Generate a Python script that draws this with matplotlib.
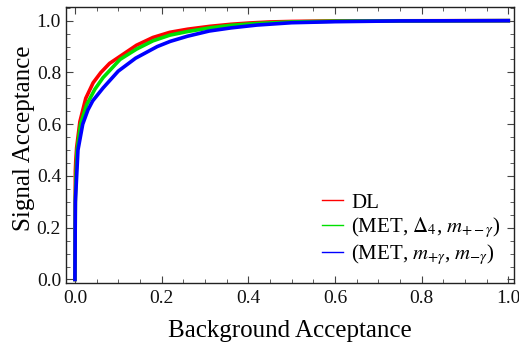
import matplotlib.pyplot as plt
from matplotlib.ticker import MultipleLocator

plt.rcParams["font.family"] = ["Liberation Serif", "DejaVu Serif"]
plt.rcParams["mathtext.fontset"] = "stix"

# ROC curves
dl_x = [0, 0.001, 0.002, 0.004, 0.0115, 0.025, 0.042, 0.06, 0.08, 0.104, 0.142,
        0.18, 0.219, 0.26, 0.311, 0.36, 0.403, 0.45, 0.5, 0.6, 0.75, 1.0]
dl_y = [0, 0.42, 0.46, 0.51, 0.61, 0.70, 0.76, 0.80, 0.835, 0.862, 0.905,
        0.935, 0.955, 0.967, 0.978, 0.986, 0.991, 0.995, 0.997, 0.999, 0.9995, 1.0]

met_d4_x = [0, 0.001, 0.003, 0.005, 0.013, 0.027, 0.046, 0.065, 0.104, 0.142,
            0.18, 0.219, 0.26, 0.311, 0.36, 0.42, 0.5, 0.6, 0.75, 1.0]
met_d4_y = [0, 0.32, 0.42, 0.50, 0.60, 0.675, 0.735, 0.78, 0.85, 0.89,
            0.922, 0.944, 0.958, 0.972, 0.982, 0.989, 0.995, 0.998, 0.999, 1.0]

met_m_x = [0, 0.001, 0.004, 0.007, 0.018, 0.03, 0.041, 0.065, 0.1, 0.14,
           0.19, 0.22, 0.26, 0.31, 0.36, 0.42, 0.5, 0.6, 0.75, 1.0]
met_m_y = [0, 0.30, 0.40, 0.50, 0.60, 0.655, 0.69, 0.74, 0.805, 0.855,
           0.90, 0.92, 0.94, 0.96, 0.972, 0.983, 0.992, 0.996, 0.999, 1.0]

labels = ["DL",
          r"(MET, $\Delta_4$, $m_{+-\gamma}$)",
          r"(MET, $m_{+\gamma}$, $m_{-\gamma}$)"]

fig = plt.figure(figsize=(5.19, 3.47), dpi=100)
ax = fig.add_axes([0.127, 0.184, 0.863, 0.796])

ax.plot(dl_x, dl_y, color="#ff0000", lw=2.6)
ax.plot(met_d4_x, met_d4_y, color="#00e000", lw=2.6)
ax.plot(met_m_x, met_m_y, color="#0000ff", lw=2.6)

# thin legend handles like the reference
h1, = ax.plot([], [], color="#ff0000", lw=1)
h2, = ax.plot([], [], color="#00e000", lw=1)
h3, = ax.plot([], [], color="#0000ff", lw=1)
ax.legend([h1, h2, h3], labels, loc="lower right", frameon=False, fontsize=15,
          handlelength=1.0, handletextpad=0.4, labelspacing=0.1,
          borderaxespad=0, bbox_to_anchor=(0.99, 0.03))

ax.set_xlim(-0.0208, 1.0127)
ax.set_ylim(-0.0143, 1.053)
ax.xaxis.set_major_locator(MultipleLocator(0.2))
ax.yaxis.set_major_locator(MultipleLocator(0.2))
ax.xaxis.set_minor_locator(MultipleLocator(0.05))
ax.yaxis.set_minor_locator(MultipleLocator(0.05))
ax.xaxis.set_major_formatter(lambda v, p: "%.1f" % v)
ax.yaxis.set_major_formatter(lambda v, p: "%.1f" % v)
ax.tick_params(which="both", direction="in", top=True, right=True,
               color="#444444", labelsize=14, labelcolor="#111111")
ax.tick_params(which="major", length=5, width=0.8)
ax.tick_params(axis="x", which="major", pad=5)
ax.tick_params(which="minor", length=3, width=0.6)
for s in ax.spines.values():
    s.set_color("#222222")
    s.set_linewidth(1.0)

ax.set_xlabel("Background Acceptance", fontsize=18, labelpad=9)
ax.set_ylabel("Signal Acceptance", fontsize=18)
ax.yaxis.set_label_coords(-0.068, 0.525)

fig.savefig("out.png", dpi=100)
